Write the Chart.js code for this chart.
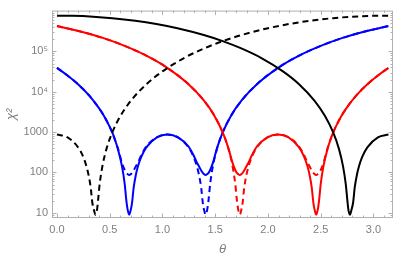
<!DOCTYPE html>
<html>
<head>
<meta charset="utf-8">
<script src="https://cdn.jsdelivr.net/npm/chart.js@4.4.1/dist/chart.umd.min.js"></script>
<style>
  html, body { margin: 0; padding: 0; background: #fff; }
  #chart { display: block; }
</style>
</head>
<body>
<canvas id="chart" width="399" height="259"></canvas>
<script>
// Blue pair: sampled densely around the two dips (0.685 and 1.409)
const thetaBlue = [0, 0.1, 0.2, 0.3, 0.4, 0.45, 0.5, 0.524, 0.55, 0.577, 0.617, 0.642, 0.657, 0.670, 0.685, 0.700, 0.712, 0.727, 0.747, 0.767, 0.797, 0.847, 0.947, 1.047, 1.147, 1.247, 1.297, 1.327, 1.347, 1.367, 1.382, 1.394, 1.409, 1.424, 1.437, 1.452, 1.477, 1.517, 1.571, 1.65, 1.75, 1.9, 2.1, 2.3, 2.5, 2.7, 2.9, 3.1416];
const chiBlueSolid = [39000, 25300, 15300, 8330, 3870, 2400, 1350, 980, 645, 388, 139, 52, 21, 12, 9, 12, 18, 42, 85, 140, 237, 418, 741, 869, 745, 440, 260, 175, 140, 112, 98, 91, 87, 91, 98, 115, 170, 400, 980, 2550, 6090, 15800, 39800, 79700, 137000, 213000, 303000, 424000];
const chiBlueDashed = [39000, 25300, 15300, 8330, 3870, 2400, 1350, 980, 645, 400, 170, 115, 98, 91, 87, 91, 98, 112, 140, 175, 260, 440, 745, 869, 741, 418, 237, 140, 85, 42, 18, 12, 9, 12, 21, 52, 139, 388, 980, 2550, 6090, 15800, 39800, 79700, 137000, 213000, 303000, 424000];

// Red pair: dips at 1.733 and 2.457
const thetaRed = [0, 0.242, 0.442, 0.642, 0.842, 1.042, 1.242, 1.392, 1.492, 1.571, 1.625, 1.665, 1.690, 1.705, 1.718, 1.733, 1.748, 1.760, 1.775, 1.795, 1.815, 1.845, 1.895, 1.995, 2.095, 2.195, 2.295, 2.345, 2.375, 2.395, 2.415, 2.430, 2.442, 2.457, 2.472, 2.485, 2.500, 2.525, 2.565, 2.592, 2.618, 2.642, 2.692, 2.742, 2.842, 2.942, 3.042, 3.1416];
const chiRedSolid = [424000, 303000, 213000, 137000, 79700, 39800, 15800, 6090, 2550, 980, 400, 170, 115, 98, 91, 87, 91, 98, 112, 140, 175, 260, 440, 745, 869, 741, 418, 237, 140, 85, 42, 18, 12, 9, 12, 21, 52, 139, 388, 645, 980, 1350, 2400, 3870, 8330, 15300, 25300, 39000];
const chiRedDashed = [424000, 303000, 213000, 137000, 79700, 39800, 15800, 6090, 2550, 980, 388, 139, 52, 21, 12, 9, 12, 18, 42, 85, 140, 237, 418, 741, 869, 745, 440, 260, 175, 140, 112, 98, 91, 87, 91, 98, 115, 170, 400, 645, 980, 1350, 2400, 3870, 8330, 15300, 25300, 39000];

// Black dashed: dip at 0.365
const thetaBlackDashed = [0, 0.1, 0.2, 0.25, 0.28, 0.3, 0.32, 0.335, 0.35, 0.365, 0.38, 0.39, 0.405, 0.43, 0.47, 0.524, 0.6, 0.7, 0.85, 1.0, 1.2, 1.4, 1.571, 1.75, 2.0, 2.2, 2.4, 2.618, 2.8, 3.0, 3.1416];
const chiBlackDashed = [870, 740, 420, 240, 140, 85, 42, 18, 12, 9, 12, 21, 52, 140, 390, 980, 2470, 5960, 15600, 32000, 67500, 120000, 180000, 255000, 375000, 477000, 575000, 667000, 725000, 762000, 770000];

// Black solid: dip at 2.777
const thetaBlackSolid = [0, 0.142, 0.342, 0.524, 0.742, 0.942, 1.142, 1.392, 1.571, 1.742, 1.942, 2.142, 2.292, 2.442, 2.542, 2.618, 2.672, 2.712, 2.737, 2.752, 2.762, 2.777, 2.792, 2.807, 2.822, 2.842, 2.862, 2.892, 2.942, 3.042, 3.1416];
const chiBlackSolid = [770000, 762000, 725000, 667000, 575000, 477000, 375000, 255000, 180000, 120000, 67500, 32000, 15600, 5960, 2470, 980, 390, 140, 52, 21, 12, 9, 12, 18, 42, 85, 140, 240, 420, 740, 870];

const xTicks = [0, 0.5, 1, 1.5, 2, 2.5, 3];
const yTicks = [10, 100, 1000, 10000, 100000];
const yTickLabels = ['10', '100', '1000', '10\u2074', '10\u2075'];

const axisGray = '#7f7f7f';
const frameGray = '#b0b0b0';

function pts(xs, ys) {
    return xs.map((x, i) => ({ x: x, y: ys[i] }));
}

function line(xs, ys, color, dashed) {
    return {
        data: pts(xs, ys),
        borderColor: color,
        borderWidth: 2,
        borderDash: dashed ? [6, 4] : [],
        pointRadius: 0,
        showLine: true,
        fill: false,
        cubicInterpolationMode: 'monotone'
    };
}

// Mathematica style frame with inward ticks on all four sides
const frameTicks = {
    id: 'frameTicks',
    afterDraw(chart) {
        const { ctx, chartArea: a, scales: { x, y } } = chart;
        ctx.save();
        ctx.strokeStyle = frameGray;
        ctx.lineWidth = 1;
        ctx.strokeRect(a.left + 0.5, a.top + 0.5, a.right - a.left - 1, a.bottom - a.top - 1);
        ctx.beginPath();
        for (let i = 0; i <= 31; i++) {
            const px = Math.round(x.getPixelForValue(i / 10)) + 0.5;
            const len = i % 5 === 0 ? 4.5 : 2.5;
            ctx.moveTo(px, a.bottom); ctx.lineTo(px, a.bottom - len);
            ctx.moveTo(px, a.top); ctx.lineTo(px, a.top + len);
        }
        for (let k = 0; k <= 5; k++) {
            for (let m = 1; m <= 9; m++) {
                const v = m * Math.pow(10, k);
                if (v < y.min || v > y.max) continue;
                const py = Math.round(y.getPixelForValue(v)) + 0.5;
                const len = m === 1 ? 4.5 : 2.5;
                ctx.moveTo(a.left, py); ctx.lineTo(a.left + len, py);
                ctx.moveTo(a.right, py); ctx.lineTo(a.right - len, py);
            }
        }
        ctx.stroke();
        ctx.restore();
    }
};

Chart.defaults.font.family = "'Liberation Sans', Arial, sans-serif";

new Chart(document.getElementById('chart').getContext('2d'), {
    type: 'scatter',
    data: {
        datasets: [
            line(thetaBlackSolid, chiBlackSolid, '#000000', false),
            line(thetaBlackDashed, chiBlackDashed, '#000000', true),
            line(thetaRed, chiRedSolid, '#ff0000', false),
            line(thetaRed, chiRedDashed, '#ff0000', true),
            line(thetaBlue, chiBlueSolid, '#0000ff', false),
            line(thetaBlue, chiBlueDashed, '#0000ff', true)
        ]
    },
    options: {
        responsive: false,
        animation: false,
        devicePixelRatio: 1,
        layout: { padding: { top: 6, right: 6, left: 0, bottom: 0 } },
        plugins: {
            legend: { display: false },
            tooltip: { enabled: false }
        },
        scales: {
            x: {
                type: 'linear',
                min: -0.047,
                max: 3.185,
                grid: { display: false, drawTicks: false },
                border: { display: false },
                afterBuildTicks: s => { s.ticks = xTicks.map(v => ({ value: v })); },
                afterFit: s => { s.height = 41; },
                ticks: {
                    padding: 5,
                    color: axisGray,
                    font: { size: 11 },
                    maxRotation: 0,
                    autoSkip: false,
                    callback: v => v.toFixed(1)
                },
                title: {
                    display: true,
                    text: '\u03b8',
                    color: axisGray,
                    font: { size: 13, style: 'italic' },
                    padding: { top: 0, bottom: 2 }
                }
            },
            y: {
                type: 'logarithmic',
                min: 7.44,
                max: 1.026e6,
                grid: { display: false, drawTicks: false },
                border: { display: false },
                afterBuildTicks: s => { s.ticks = yTicks.map(v => ({ value: v })); },
                afterFit: s => { s.width = 52; },
                ticks: {
                    padding: 4,
                    color: axisGray,
                    font: { size: 11 },
                    autoSkip: false,
                    callback: (v, i) => yTickLabels[i]
                },
                title: {
                    display: true,
                    text: '\u03c7\u00b2',
                    color: axisGray,
                    font: { size: 13, style: 'italic' },
                    padding: { top: 4, bottom: 0 }
                }
            }
        }
    },
    plugins: [frameTicks]
});
</script>
</body>
</html>
